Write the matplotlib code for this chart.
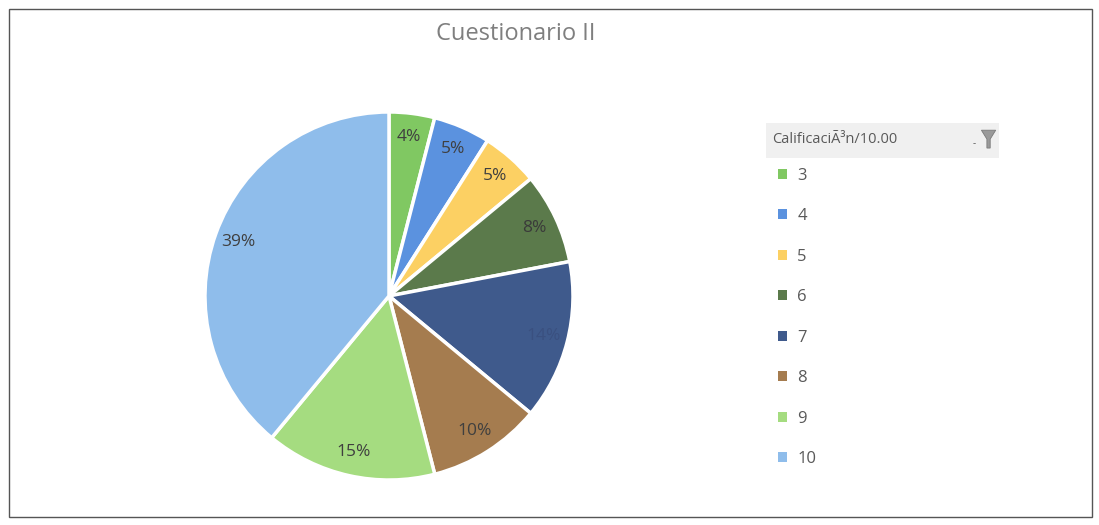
import matplotlib.pyplot as plt
from matplotlib.patches import Rectangle, Polygon

# grades (Calificación) and share of students
grades = ['3', '4', '5', '6', '7', '8', '9', '10']
shares = [4, 5, 5, 8, 14, 10, 15, 39]
colors = ['#80c862', '#5b92df', '#fcd063', '#5b7a4b', '#3f5a8c',
          '#a57c4f', '#a5dc80', '#8fbdeb']
label_colors = ['#3f3f3f', '#3f3f3f', '#3f3f3f', '#3a3a3a', '#3a5080',
                '#3f3f3f', '#3f3f3f', '#3f3f3f']

plt.rcParams['font.family'] = ['Open Sans', 'DejaVu Sans']

fig = plt.figure(figsize=(10.99, 5.25), dpi=100)
fig.patch.set_facecolor('white')

# chart frame
fig.patches.append(Rectangle((0.008, 0.015), 0.986, 0.968, transform=fig.transFigure,
                             fill=False, edgecolor='#555555', linewidth=1.0))

ax = fig.add_axes([0.1865, 0.0857, 0.3349, 0.701])
wedges, texts, autotexts = ax.pie(
    shares, colors=colors, startangle=90, counterclock=False,
    autopct='%1.0f%%', pctdistance=0.87,
    wedgeprops=dict(edgecolor='white', linewidth=2.5),
    textprops=dict(fontsize=12.5, color='#3f3f3f'))
for t, c in zip(autotexts, label_colors):
    t.set_color(c)
ax.set_xlim(-1.0, 1.0)
ax.set_ylim(-1.0, 1.0)
ax.set_aspect('equal')

fig.text(0.469, 0.935, 'Cuestionario II', ha='center', va='center',
         fontsize=17, color='#7f7f7f')

# legend header box with filter icon
fig.patches.append(Rectangle((0.697, 0.700), 0.212, 0.065, transform=fig.transFigure,
                             facecolor='#f0f0f0', edgecolor='none'))
fig.text(0.703, 0.734, 'CalificaciÃ³n/10.00', ha='left', va='center',
         fontsize=10.5, color='#595959')
fig.patches.append(Polygon([(0.893, 0.752), (0.906, 0.752), (0.901, 0.735),
                            (0.901, 0.718), (0.898, 0.718), (0.898, 0.735)],
                           closed=True, transform=fig.transFigure,
                           facecolor='#9a9a9a', edgecolor='#7a7a7a', linewidth=0.6))
fig.text(0.886, 0.726, '-', fontsize=7, color='#595959', ha='center', va='center')

leg = fig.legend(wedges, grades, loc='upper left', bbox_to_anchor=(0.702, 0.693),
                 frameon=False, fontsize=12, labelcolor='#595959',
                 handlelength=0.55, handleheight=0.55, handletextpad=0.6,
                 labelspacing=1.47, borderaxespad=0)
for h in leg.legend_handles:
    h.set_edgecolor('none')

fig.savefig('out.png', dpi=100)
